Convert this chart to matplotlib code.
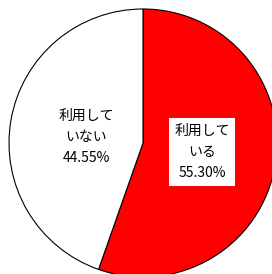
import matplotlib
matplotlib.use("Agg")
import matplotlib.pyplot as plt

plt.rcParams['font.family'] = ['Noto Sans CJK JP', 'DejaVu Sans']

labels = ["利用して\nいる", "利用して\nいない"]
shares = [55.30, 44.55]
colors = ["#ff0000", "#ffffff"]

fig = plt.figure(figsize=(2.72, 2.74), dpi=100)
ax = fig.add_axes([0, 0, 1, 1])

cx, cy, r = 143, 131, 134
ax.pie(shares, colors=colors, startangle=90, counterclock=False,
       center=(cx, cy), radius=r, frame=True,
       wedgeprops=dict(edgecolor="black", linewidth=0.8))
ax.set_xlim(0, 272)
ax.set_ylim(0, 274)
ax.set_aspect("equal")
ax.axis("off")

# labels
ax.text(202, 122, f"{labels[0]}\n{shares[0]:.2f}%", ha="center", va="center",
        fontsize=10, linespacing=1.65,
        bbox=dict(facecolor="white", edgecolor="none", pad=4))
ax.text(86, 137, f"{labels[1]}\n{shares[1]:.2f}%", ha="center", va="center",
        fontsize=10, linespacing=1.65)

fig.savefig("out.png", dpi=100)
